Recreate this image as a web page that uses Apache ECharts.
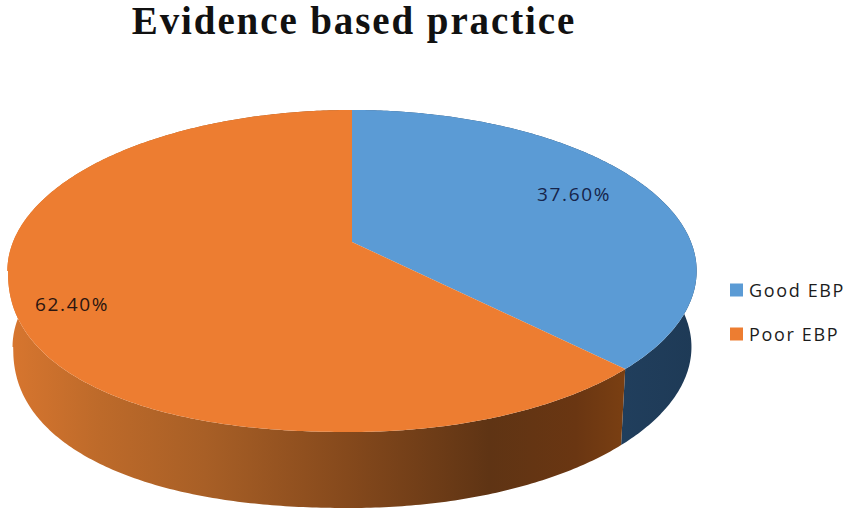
<!DOCTYPE html>
<html><head><meta charset="utf-8">
<style>html,body{margin:0;background:#fff}#c{width:850px;height:519px}
#c text{letter-spacing:1.65px}
#c text[style*="serif"]{letter-spacing:1.9px}
</style>
<script src="https://cdn.jsdelivr.net/npm/echarts@6/dist/echarts.min.js"></script></head>
<body><div id="c"></div>
<script>
const titleText = 'Evidence based practice';
const categories = ['Good EBP', 'Poor EBP'];
const values = [37.6, 62.4];
const faceColors = ['#5b9bd5', '#ed7d31'];
const labelColors = ['#16244a', '#2a1510'];
const sideStops = [
  [[0,'#2a4e74'],[1,'#1e3a56']],
  [[0,'#d8762f'],[0.15,'#bd6a2a'],[0.32,'#a85f26'],[0.55,'#85491c'],[0.78,'#5f3414'],[0.92,'#6a3612'],[1,'#7a3f12']]
];
const total = values.reduce((a,b)=>a+b,0);
// perspective projection of the pie disc
const P = {cx:352, ax:339, b:242, a:112.2, c:-0.18, depth:76, shrink:0.985};
const RIM = {cy:271, rx:344, ry:161, p:2.25};
const D = Math.PI/180;
function topPt(t){
  const u=Math.sin(t),v=-Math.cos(t),w=1+P.c*v;
  const x=P.cx+P.ax*u/w;
  let y=(P.b+P.a*v)/w;
  if(t>=180*D && t<=259.6*D){                             // lower-left rim is fuller in the picture
    const dx=Math.min(1,(P.cx-x)/RIM.rx);
    y=RIM.cy+RIM.ry*Math.pow(1-Math.pow(dx,RIM.p),1/RIM.p);
  }
  return [x,y];
}
function botPt(t){const p=topPt(t);return [P.cx+(p[0]-P.cx)*P.shrink,p[1]+P.depth];}
function arc(f,a0,a1){const n=Math.max(8,Math.ceil((a1-a0)*90)),r=[];for(let i=0;i<=n;i++)r.push(f(a0+(a1-a0)*i/n));return r;}
const labelAt = [[574,194],[72,304]];
function makeRender(idx){
  return function(params,api){
    const before=values.slice(0,idx).reduce((a,b)=>a+b,0);
    const a0=before/total*2*Math.PI, a1=(before+api.value(0))/total*2*Math.PI;
    const topArc=arc(topPt,a0,a1), botArc=arc(botPt,a0,a1);
    return {type:'group',children:[
      {type:'polygon',z2:1,shape:{points:topArc.concat(botArc.slice().reverse())},
       style:{fill:new echarts.graphic.LinearGradient(0,0,1,0,sideStops[idx].map(s=>({offset:s[0],color:s[1]})))}},
      {type:'polygon',z2:2,shape:{points:[[P.cx,P.b]].concat(topArc)},style:{fill:faceColors[idx]}},
      {type:'text',z2:3,style:{x:labelAt[idx][0],y:labelAt[idx][1],text:api.value(0).toFixed(2)+'%',
        fill:labelColors[idx],font:'19px "Open Sans"',align:'center',verticalAlign:'middle'}}
    ]};
  };
}
const chart=echarts.init(document.getElementById('c'),null,{renderer:'svg'});
chart.setOption({
  animation:false,
  backgroundColor:'#fff',
  title:{text:titleText,left:349,top:-4,textAlign:'center',textStyle:{fontFamily:'"Liberation Serif", serif',fontWeight:'bold',fontSize:39,color:'#111'}},
  legend:{orient:'vertical',left:725,top:276,itemWidth:13,itemHeight:13,itemGap:26,icon:'rect',
    data:categories,textStyle:{fontFamily:'"Open Sans"',fontSize:18,color:'#1c1c1c',padding:[0,0,0,1]}},
  series:categories.map((name,i)=>({type:'custom',name,coordinateSystem:'none',silent:true,
    itemStyle:{color:faceColors[i]},data:[[values[i]]],renderItem:makeRender(i)}))
});
</script></body></html>
